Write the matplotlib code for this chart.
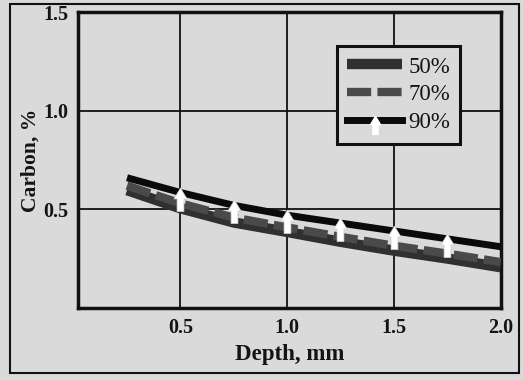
import numpy as np
import matplotlib
matplotlib.use("Agg")
import matplotlib.pyplot as plt
from matplotlib.path import Path
from matplotlib.patches import Rectangle

depth = [0.25, 0.5, 0.75, 1.0, 1.25, 1.5, 1.75, 2.0]
c50 = [0.597, 0.505, 0.433, 0.385, 0.335, 0.29, 0.25, 0.206]
c70 = [0.62, 0.53, 0.458, 0.408, 0.36, 0.315, 0.275, 0.232]
c90 = [0.66, 0.585, 0.52, 0.47, 0.43, 0.39, 0.35, 0.31]
marker_depth = [0.5, 0.75, 1.0, 1.25, 1.5, 1.75]
labels = ["50%", "70%", "90%"]
xticks = [0.5, 1.0, 1.5, 2.0]
yticks = [0.5, 1.0, 1.5]

bg = "#dadada"
ink = "#141414"
fig = plt.figure(figsize=(5.23, 3.8), dpi=100, facecolor=bg)
ax = fig.add_axes([0.149, 0.190, 0.808, 0.778], facecolor=bg)

# arrow marker: head on top, stem below; origin at line centre
verts = [(-0.19, -1.0), (0.19, -1.0), (0.19, -0.3), (0.36, -0.3), (0.0, 0.3),
         (-0.36, -0.3), (-0.19, -0.3), (-0.19, -1.0)]
arrow = Path(verts, closed=True)

ax.plot(depth, c50, color="#303030", lw=7.5, solid_capstyle="butt", zorder=3, label=labels[0])
ax.plot(depth, c70, color="#4a4a4a", lw=6, dashes=(2.9, 0.75), dash_capstyle="butt", zorder=4, label=labels[1])
ax.plot(depth, c90, color="#0a0a0a", lw=5, solid_capstyle="butt", zorder=5)
m90 = np.interp(marker_depth, depth, c90)
ax.plot(marker_depth, m90, ls="none", marker=arrow, ms=26, mfc="white", mec="#d0d0d0", mew=0.5, zorder=6)
ax.plot([], [], color="#0a0a0a", lw=5, marker=arrow, ms=20, mfc="white", mec="white",
        markevery=[1], label=labels[2])

ax.set_xlim(0.02, 2.0)
ax.set_ylim(0, 1.5)
ax.set_xticks(xticks)
ax.set_yticks(yticks)
ax.set_xticklabels([f"{t:.1f}" for t in xticks])
ax.set_yticklabels([f"{t:.1f}" for t in yticks])
ax.tick_params(length=0, pad=7, labelsize=14.5)
for lab in ax.get_xticklabels() + ax.get_yticklabels():
    lab.set_fontfamily("Liberation Serif")
    lab.set_fontweight("bold")
    lab.set_color(ink)
ax.grid(True, color="#111111", lw=1.3, zorder=1)
ax.set_axisbelow(True)
for sp in ax.spines.values():
    sp.set_linewidth(2.5)
    sp.set_color("#111111")

ax.set_xlabel("Depth, mm", family="Liberation Serif", weight="bold", fontsize=16.5, color=ink, labelpad=5)
ax.set_ylabel("Carbon, %", family="Liberation Serif", weight="bold", fontsize=15.5, color=ink, labelpad=2)

h, l = ax.get_legend_handles_labels()
leg = ax.legend(h, l, loc="upper right", bbox_to_anchor=(0.905, 0.885), frameon=True, fancybox=False,
                facecolor=bg, edgecolor="#111111", framealpha=1, handlelength=2.4, handletextpad=0.25,
                borderpad=0.45, labelspacing=0.3, borderaxespad=0,
                prop={"family": "Liberation Serif", "size": 16.5})
leg.get_frame().set_linewidth(2.2)
for t in leg.get_texts():
    t.set_color(ink)

fig.patches.append(Rectangle((0.019, 0.018), 0.973, 0.972, transform=fig.transFigure,
                             fill=False, ec="#111111", lw=1.5))

fig.savefig("out.png", dpi=100, facecolor=bg)
